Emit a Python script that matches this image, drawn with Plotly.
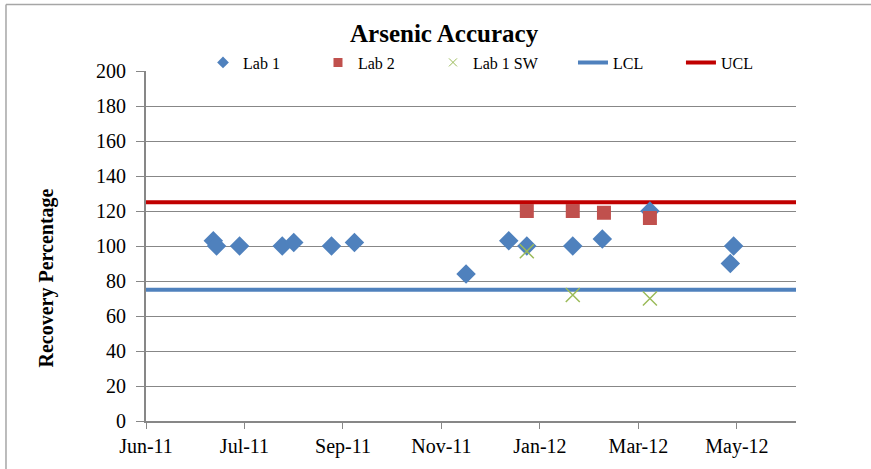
import plotly.graph_objects as go

# ---- data ----
lab1_dates = ["2011-07-12", "2011-07-14", "2011-07-28", "2011-08-23", "2011-08-30",
              "2011-09-22", "2011-10-06", "2011-12-13", "2012-01-08", "2012-01-19",
              "2012-02-16", "2012-03-05", "2012-04-03", "2012-05-22", "2012-05-24"]
lab1_values = [103, 100, 100, 100, 102, 100, 102, 84, 103, 100, 100, 104, 120, 90, 100]

lab2_dates = ["2012-01-19", "2012-02-16", "2012-03-06", "2012-04-03"]
lab2_values = [120, 120, 119, 116]

sw_dates = ["2012-01-19", "2012-02-16", "2012-04-03"]
sw_values = [97, 72, 70]

lcl_dates = ["2011-06-01", "2012-07-01"]
lcl_values = [75, 75]
ucl_dates = ["2011-06-01", "2012-07-01"]
ucl_values = [125, 125]

x_tickvals = ["2011-06-01", "2011-07-31", "2011-09-29", "2011-11-28",
              "2012-01-27", "2012-03-27", "2012-05-26"]
x_ticktext = ["Jun-11", "Jul-11", "Sep-11", "Nov-11", "Jan-12", "Mar-12", "May-12"]
y_tickvals = [0, 20, 40, 60, 80, 100, 120, 140, 160, 180, 200]

FONT = "Liberation Serif"
BLUE = "#4F81BD"
RED_LINE = "#C00000"
RED_SQ = "#C0504D"
GREEN = "#9BBB59"
GRID = "#878787"

fig = go.Figure()

# control lines (drawn first so markers sit on top)
fig.add_trace(go.Scatter(x=lcl_dates, y=lcl_values, mode="lines",
                         line=dict(color=BLUE, width=4), showlegend=False, cliponaxis=False))
fig.add_trace(go.Scatter(x=ucl_dates, y=ucl_values, mode="lines",
                         line=dict(color=RED_LINE, width=4), showlegend=False, cliponaxis=False))
# points
fig.add_trace(go.Scatter(x=lab1_dates, y=lab1_values, mode="markers",
                         marker=dict(symbol="diamond", size=15, color=BLUE), showlegend=False))
fig.add_trace(go.Scatter(x=lab2_dates, y=lab2_values, mode="markers",
                         marker=dict(symbol="square", size=14, color=RED_SQ), showlegend=False))
fig.add_trace(go.Scatter(x=sw_dates, y=sw_values, mode="markers",
                         marker=dict(symbol="x-thin-open", size=14, color=GREEN,
                                     line=dict(color=GREEN, width=1.5)), showlegend=False))

# legend entries (each in its own legend to reproduce Excel's spacing)
legend_specs = [
    ("Lab 1", dict(mode="markers", marker=dict(symbol="diamond", size=9, color=BLUE)), "legend", 0.0877),
    ("Lab 2", dict(mode="markers", marker=dict(symbol="square", size=9, color=RED_SQ)), "legend2", 0.2646),
    ("Lab 1 SW", dict(mode="markers", marker=dict(symbol="x-thin-open", size=8, color=GREEN,
                                                 line=dict(color=GREEN, width=1))), "legend3", 0.4415),
    ("LCL", dict(mode="lines", line=dict(color=BLUE, width=4)), "legend4", 0.6569),
    ("UCL", dict(mode="lines", line=dict(color=RED_LINE, width=4)), "legend5", 0.8230),
]
legend_layout = {}
for name, spec, lg, xpos in legend_specs:
    fig.add_trace(go.Scatter(x=[None], y=[None], name=name, legend=lg, showlegend=True, **spec))
    legend_layout[lg] = dict(x=xpos, xanchor="left", y=1.0243, yanchor="middle",
                             orientation="h", bgcolor="rgba(0,0,0,0)", borderwidth=0,
                             font=dict(family=FONT, size=16, color="#000000"))

fig.update_layout(
    width=871, height=469,
    margin=dict(l=146, r=75, t=71, b=48),
    paper_bgcolor="white", plot_bgcolor="white",
    font=dict(family=FONT, color="#000000"),
    **legend_layout,
    xaxis=dict(type="date", range=["2011-06-01", "2012-07-01"],
               tickmode="array", tickvals=x_tickvals, ticktext=x_ticktext,
               tickfont=dict(family=FONT, size=20, color="#000000"),
               showgrid=False, zeroline=False,
               showline=True, linecolor=GRID, linewidth=2,
               ticks="outside", ticklen=6, tickwidth=1, tickcolor=GRID),
    yaxis=dict(range=[0, 200], tickmode="array", tickvals=y_tickvals,
               tickfont=dict(family=FONT, size=20, color="#000000"),
               showgrid=True, gridcolor=GRID, gridwidth=1.3, zeroline=False,
               showline=True, linecolor=GRID, linewidth=2,
               ticks="outside", ticklen=8, tickwidth=1, tickcolor=GRID,
               ticklabelstandoff=6),
    annotations=[
        dict(text="<b>Arsenic Accuracy</b>", xref="paper", yref="paper",
             x=0.4585, y=1.107, xanchor="center", yanchor="middle", showarrow=False,
             font=dict(family=FONT, size=25, color="#000000")),
        dict(text="<b>Recovery Percentage</b>", xref="paper", yref="paper",
             x=(46 - 146) / 650, y=(420.5 - 278) / 350, xanchor="center", yanchor="middle",
             textangle=-90, showarrow=False,
             font=dict(family=FONT, size=20, color="#000000")),
    ],
    shapes=[
        dict(type="line", xref="paper", yref="paper", x0=-0.2154, x1=1.1154, y0=1.19, y1=1.19,
             line=dict(color="#A6A6A6", width=1.5)),
        dict(type="line", xref="paper", yref="paper", x0=-0.2154, x1=-0.2154, y0=1.19, y1=-0.1386,
             line=dict(color="#A6A6A6", width=1.5)),
    ],
)

fig.write_html("out.html", config={"displayModeBar": False},
               post_script="document.body.style.margin='0';")
